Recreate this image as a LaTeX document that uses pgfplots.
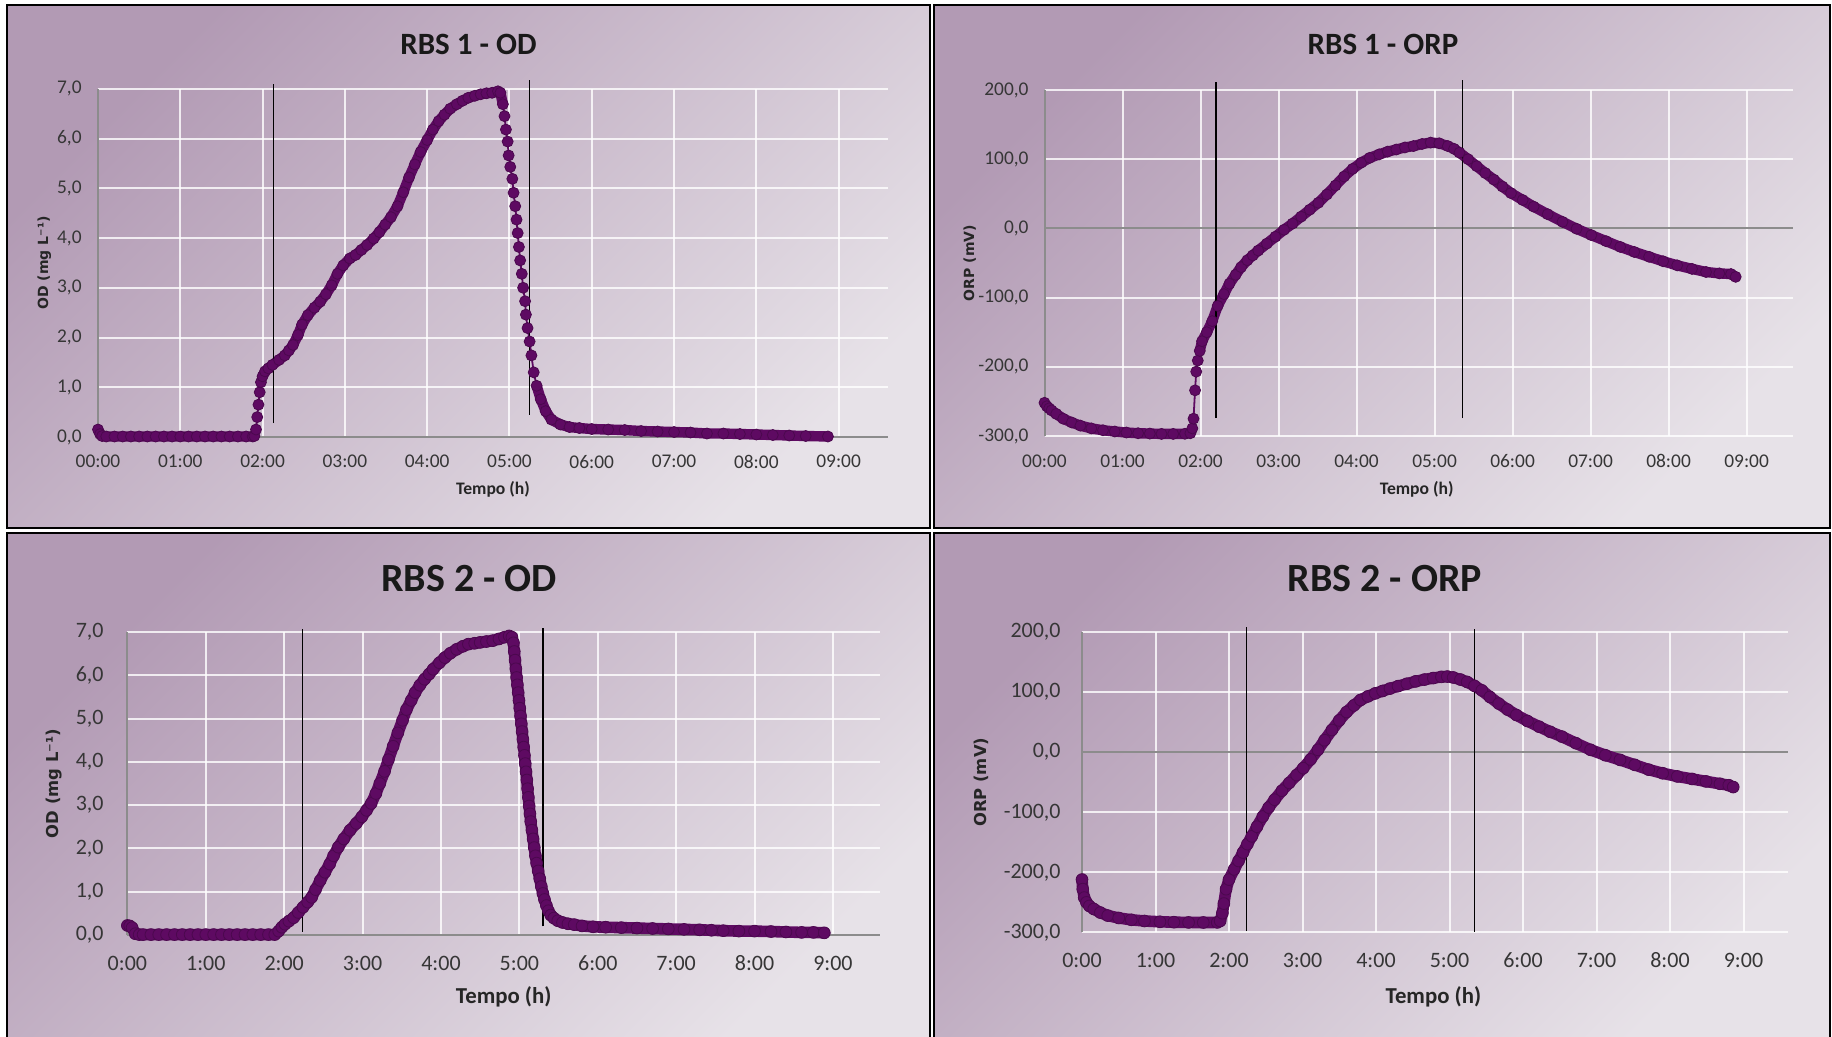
\documentclass[border=0pt]{standalone}
\usepackage{fontspec}
\setmainfont{Carlito}
\newfontfamily\dvs{DejaVu Sans}
\usepackage{pgfplots}
\pgfplotsset{compat=1.18}
\usepackage{pgfplotstable}
\definecolor{pp}{HTML}{5E0A62}
\definecolor{bgA}{HTML}{B29AB4}
\definecolor{bgB}{HTML}{CCBECD}
\definecolor{bgC}{HTML}{E7E2E8}
\definecolor{tk}{HTML}{363636}
\definecolor{axg}{HTML}{8C8C8C}

% RBS 1 - OD
\pgfplotstableread{
t v
0.000 0.15
0.025 0.06
0.05 0.02
0.10 0.01
0.20 0.01
0.30 0.01
0.40 0.01
0.50 0.01
0.60 0.01
0.70 0.01
0.80 0.01
0.90 0.01
1.00 0.01
1.10 0.01
1.20 0.01
1.30 0.01
1.40 0.01
1.50 0.01
1.60 0.01
1.70 0.01
1.80 0.01
1.88 0.01
1.90 0.02
1.92 0.15
1.935 0.40
1.95 0.65
1.965 0.90
1.98 1.10
2.00 1.22
2.03 1.32
2.07 1.38
2.12 1.45
2.20 1.55
2.27 1.64
2.32 1.74
2.37 1.85
2.43 2.05
2.48 2.26
2.55 2.45
2.63 2.60
2.70 2.72
2.77 2.87
2.84 3.05
2.91 3.28
2.98 3.45
3.06 3.59
3.13 3.66
3.20 3.76
3.27 3.86
3.35 3.99
3.42 4.12
3.49 4.27
3.56 4.42
3.64 4.64
3.71 4.92
3.78 5.22
3.85 5.48
3.92 5.73
4.00 5.97
4.07 6.18
4.14 6.35
4.21 6.48
4.28 6.60
4.36 6.69
4.43 6.76
4.50 6.82
4.58 6.86
4.65 6.89
4.72 6.91
4.79 6.92
4.86 6.95
4.89 6.92
4.92 6.69
4.94 6.45
4.957 6.18
4.978 5.94
4.99 5.66
5.01 5.43
5.035 5.19
5.05 4.91
5.07 4.64
5.086 4.37
5.10 4.10
5.115 3.82
5.13 3.55
5.15 3.28
5.166 3.00
5.19 2.73
5.20 2.46
5.22 2.19
5.245 1.92
5.267 1.64
5.295 1.30
5.33 1.03
5.38 0.76
5.44 0.52
5.51 0.35
5.62 0.25
5.73 0.20
5.85 0.18
6.00 0.16
6.20 0.15
6.40 0.14
6.60 0.12
6.80 0.11
7.00 0.10
7.20 0.09
7.40 0.07
7.60 0.07
7.80 0.06
8.00 0.05
8.20 0.04
8.40 0.03
8.60 0.02
8.87 0.01
}\odA

% RBS 1 - ORP
\pgfplotstableread{
t v
0.00 -252
0.03 -257
0.06 -260
0.09 -263
0.15 -268
0.24 -275
0.35 -280.5
0.46 -285
0.60 -289
0.75 -291.7
0.90 -293.5
1.05 -295
1.20 -296
1.35 -296.5
1.50 -297
1.65 -297
1.80 -296.8
1.87 -296
1.895 -289
1.91 -275
1.93 -234
1.945 -207
1.965 -191
1.99 -177
2.02 -163
2.08 -150
2.15 -134
2.22 -112
2.30 -95
2.37 -80
2.45 -67
2.52 -56
2.60 -46
2.67 -39
2.74 -32
2.85 -22
2.96 -12
3.07 -2
3.18 7
3.29 17
3.40 27
3.51 37
3.62 49
3.73 62
3.84 75
3.95 86
4.06 95
4.17 102
4.29 107
4.40 111
4.51 114
4.62 117
4.73 119
4.84 122
4.95 124
5.06 123
5.17 119
5.25 115
5.32 109.5
5.43 100
5.54 90
5.65 80
5.76 70.5
5.87 60.5
5.98 51
6.13 41
6.27 31.5
6.45 20.5
6.64 9.5
6.82 -0.5
7.01 -9.7
7.20 -18.5
7.38 -26.7
7.56 -34
7.75 -41
7.93 -47.5
8.11 -53.4
8.30 -58.5
8.48 -63
8.65 -65
8.80 -66
8.86 -70
}\orpA

% RBS 2 - OD
\pgfplotstableread{
t v
0.00 0.22
0.03 0.21
0.06 0.17
0.10 0.03
0.15 0.01
0.20 0.01
0.30 0.01
0.40 0.01
0.50 0.01
0.60 0.01
0.70 0.01
0.80 0.01
0.90 0.01
1.00 0.01
1.10 0.01
1.20 0.01
1.30 0.01
1.40 0.01
1.50 0.01
1.60 0.01
1.70 0.01
1.80 0.01
1.88 0.01
1.93 0.09
1.97 0.18
2.01 0.25
2.06 0.32
2.12 0.40
2.18 0.52
2.24 0.64
2.30 0.76
2.35 0.87
2.40 1.05
2.46 1.26
2.52 1.45
2.58 1.64
2.63 1.83
2.69 2.03
2.76 2.22
2.84 2.42
2.92 2.58
2.99 2.73
3.05 2.88
3.11 3.04
3.17 3.27
3.22 3.50
3.28 3.78
3.33 4.05
3.39 4.36
3.45 4.67
3.51 4.96
3.56 5.21
3.62 5.42
3.67 5.60
3.73 5.77
3.79 5.91
3.85 6.03
3.90 6.14
3.98 6.29
4.05 6.41
4.12 6.51
4.20 6.60
4.28 6.67
4.35 6.72
4.43 6.74
4.50 6.76
4.58 6.78
4.66 6.80
4.74 6.84
4.81 6.88
4.87 6.91
4.905 6.88
4.925 6.75
4.935 6.55
4.945 6.35
4.955 6.15
4.965 5.95
4.975 5.78
4.985 5.60
4.995 5.42
5.005 5.24
5.015 5.06
5.025 4.88
5.035 4.70
5.045 4.52
5.055 4.34
5.065 4.15
5.075 3.96
5.085 3.77
5.095 3.58
5.105 3.38
5.115 3.18
5.125 2.98
5.135 2.80
5.145 2.62
5.16 2.42
5.175 2.22
5.19 2.02
5.205 1.83
5.22 1.66
5.24 1.48
5.26 1.30
5.28 1.12
5.30 0.96
5.32 0.82
5.345 0.68
5.37 0.56
5.40 0.46
5.44 0.39
5.49 0.33
5.55 0.29
5.62 0.26
5.70 0.24
5.80 0.21
5.94 0.19
6.10 0.18
6.30 0.17
6.50 0.16
6.70 0.15
6.90 0.14
7.10 0.13
7.30 0.12
7.45 0.11
7.60 0.10
7.80 0.09
8.00 0.09
8.21 0.08
8.40 0.07
8.60 0.06
8.75 0.06
8.89 0.05
}\odB

% RBS 2 - ORP
\pgfplotstableread{
t v
0.00 -212
0.01 -228
0.03 -242
0.06 -250
0.10 -256
0.16 -261
0.25 -267
0.35 -272
0.50 -276
0.67 -279
0.85 -281
1.06 -282.3
1.25 -283
1.45 -283.4
1.65 -283.5
1.84 -283.4
1.88 -281
1.91 -268
1.93 -252
1.96 -228
2.00 -212
2.07 -195
2.13 -181
2.19 -167
2.25 -153
2.31 -140
2.38 -124
2.46 -107
2.54 -92
2.62 -79
2.72 -64
2.82 -51
2.92 -38
3.01 -26.5
3.11 -12
3.21 4
3.30 20
3.40 37
3.50 53
3.60 67
3.70 78
3.79 87
3.89 93
3.99 98
4.09 102
4.19 106
4.30 110
4.42 114
4.54 118
4.66 121
4.78 123.5
4.89 125.5
4.97 126
5.05 124.5
5.15 121
5.24 117
5.34 110.5
5.44 103
5.55 92
5.67 81
5.79 71
5.91 62
6.06 52
6.22 42.5
6.37 34
6.53 26
6.72 15
6.92 4
7.12 -5
7.32 -12.7
7.52 -21
7.71 -29
7.90 -35
8.10 -40.3
8.30 -44.5
8.49 -48.6
8.68 -52.5
8.80 -55
8.86 -58
}\orpB

\pgfplotsset{
  panel/.style={
    scale only axis, xmin=0, xmax=9.6, clip=false,
    axis line style={draw=none}, major tick length=0pt, tick style={draw=none},
    xtick={0,1,2,3,4,5,6,7,8,9}, grid=major,
    grid style={white, opacity=0.8, line width=1pt},
    tick label style={text=tk, inner sep=0pt},
    xticklabel style={anchor=center},
    yticklabel style={anchor=east},
    every axis title/.style={anchor=center, text=black!90},
    every axis x label/.style={anchor=center, text=black!85},
    every axis y label/.style={anchor=center, rotate=90, text=black!85},
    xlabel={Tempo (h)},
  },
  odaxis/.style={ymin=0, ymax=7, ytick={0,1,2,3,4,5,6,7},
    yticklabels={{0,0},{1,0},{2,0},{3,0},{4,0},{5,0},{6,0},{7,0}}},
  orpaxis/.style={ymin=-300, ymax=200, ytick={-300,-200,-100,0,100,200},
    yticklabels={{-300,0},{-200,0},{-100,0},{0,0},{100,0},{200,0}}},
  band/.style={pp, line width=#1, line join=round, line cap=round, no markers, unbounded coords=jump},
  dots/.style={pp, line width=0.9pt, mark=*, mark size=#1,
    mark options={fill=pp, draw=pp!80!black, line width=0.4pt}},
}

\begin{document}
\begin{tikzpicture}
\path[use as bounding box] (0pt,0pt) rectangle (916pt,-518.5pt);
\clip (0pt,0pt) rectangle (916pt,-518.5pt);
\fill[white] (0pt,0pt) rectangle (916pt,-518.5pt);
% panel backgrounds
\foreach \xa/\ya/\xb/\yb in {3.5/-2.5/465/-264, 467/-2.5/915/-264, 3.5/-266.5/465/-524, 467/-266.5/915/-524}{
  \shade[top color=bgA, middle color=bgB, bottom color=bgC, shading angle=45] (\xa pt,\ya pt) rectangle (\xb pt,\yb pt);
  \draw[black, line width=1.1pt] (\xa pt,\ya pt) rectangle (\xb pt,\yb pt);
}

% ---------------- RBS 1 - OD
\begin{axis}[panel, odaxis, at={(49pt,-218.5pt)}, anchor=south west,
  width=395pt, height=174.1pt,
  tick label style={font=\fontsize{9.7}{11}\selectfont},
  xticklabels={00:00,01:00,02:00,03:00,04:00,05:00,06:00,07:00,08:00,09:00},
  xticklabel style={yshift=-12.3pt}, yticklabel style={xshift=-8pt},
  title={RBS 1 - OD},
  title style={at={(axis description cs:0.469,1.1287)}, font=\fontsize{15.5}{18}\selectfont\bfseries},
  xlabel style={at={(axis description cs:0.5,-0.1511)}, font=\fontsize{8.8}{10}\selectfont\bfseries},
  ylabel={OD (mg L⁻¹)},
  ylabel style={at={(axis description cs:-0.0678,0.5)}, font=\dvs\bfseries\fontsize{7}{8}\selectfont},
]
\draw[axg, line width=1pt] (axis cs:0,0) -- (axis cs:0,7);
\draw[axg, line width=1pt] (axis cs:0,0) -- (axis cs:9.6,0);
\addplot[band=5.2pt, restrict x to domain=0:1.91] table {\odA};
\addplot[band=5.2pt, restrict x to domain=2.0:4.93] table {\odA};
\addplot[band=5.2pt, restrict x to domain=5.3:9] table {\odA};
\addplot[dots=2.75pt] table {\odA};
\draw[black, line width=0.75pt] (axis cs:2.13,0.28) -- (axis cs:2.13,7.10);
\draw[black, line width=0.75pt] (axis cs:5.245,0.45) -- (axis cs:5.245,7.17);
\end{axis}

% ---------------- RBS 1 - ORP
\begin{axis}[panel, orpaxis, at={(522.25pt,-218pt)}, anchor=south west,
  width=374.45pt, height=173pt,
  tick label style={font=\fontsize{9.7}{11}\selectfont},
  xticklabels={00:00,01:00,02:00,03:00,04:00,05:00,06:00,07:00,08:00,09:00},
  xticklabel style={yshift=-12.5pt}, yticklabel style={xshift=-7.8pt},
  title={RBS 1 - ORP},
  title style={at={(axis description cs:0.452,1.1329)}, font=\fontsize{15.5}{18}\selectfont\bfseries},
  xlabel style={at={(axis description cs:0.497,-0.1549)}, font=\fontsize{8.8}{10}\selectfont\bfseries},
  ylabel={ORP (mV)},
  ylabel style={at={(axis description cs:-0.0999,0.5)}, font=\dvs\bfseries\fontsize{7}{8}\selectfont},
]
\draw[axg, line width=1pt] (axis cs:0,-300) -- (axis cs:0,200);
\draw[axg, line width=1pt] (axis cs:0,0) -- (axis cs:9.6,0);
\addplot[band=5.2pt, restrict x to domain=0:1.88] table {\orpA};
\addplot[band=5.2pt, restrict x to domain=1.99:9] table {\orpA};
\addplot[dots=2.75pt] table {\orpA};
\draw[black, line width=0.75pt] (axis cs:2.2,-274) -- (axis cs:2.2,211);
\draw[black, line width=0.75pt] (axis cs:5.36,-274) -- (axis cs:5.36,215);
\end{axis}

% ---------------- RBS 2 - OD
\begin{axis}[panel, odaxis, at={(63.7pt,-467.5pt)}, anchor=south west,
  width=376.3pt, height=151.5pt,
  tick label style={font=\fontsize{11}{13}\selectfont},
  xticklabels={0:00,1:00,2:00,3:00,4:00,5:00,6:00,7:00,8:00,9:00},
  xticklabel style={yshift=-14pt}, yticklabel style={xshift=-11.7pt},
  title={RBS 2 - OD},
  title style={at={(axis description cs:0.454,1.1782)}, font=\fontsize{20}{24}\selectfont\bfseries},
  xlabel style={at={(axis description cs:0.5,-0.2033)}, font=\fontsize{11.4}{13}\selectfont\bfseries},
  ylabel={OD (mg L⁻¹)},
  ylabel style={at={(axis description cs:-0.0981,0.5)}, font=\dvs\bfseries\fontsize{8.2}{9}\selectfont},
]
\draw[axg, line width=1pt] (axis cs:0,0) -- (axis cs:0,7);
\draw[axg, line width=1pt] (axis cs:0,0) -- (axis cs:9.6,0);
\addplot[band=5.8pt] table {\odB};
\addplot[dots=2.95pt] table {\odB};
\draw[black, line width=0.75pt] (axis cs:2.235,0.08) -- (axis cs:2.235,7.06);
\draw[black, line width=0.75pt] (axis cs:5.30,0.20) -- (axis cs:5.30,7.10);
\end{axis}

% ---------------- RBS 2 - ORP
\begin{axis}[panel, orpaxis, at={(541pt,-466.2pt)}, anchor=south west,
  width=352.8pt, height=150.15pt,
  tick label style={font=\fontsize{11}{13}\selectfont},
  xticklabels={0:00,1:00,2:00,3:00,4:00,5:00,6:00,7:00,8:00,9:00},
  xticklabel style={yshift=-14pt}, yticklabel style={xshift=-10.5pt},
  title={RBS 2 - ORP},
  title style={at={(axis description cs:0.429,1.18)}, font=\fontsize{20}{24}\selectfont\bfseries},
  xlabel style={at={(axis description cs:0.498,-0.2153)}, font=\fontsize{11.4}{13}\selectfont\bfseries},
  ylabel={ORP (mV)},
  ylabel style={at={(axis description cs:-0.1423,0.5)}, font=\dvs\bfseries\fontsize{8.2}{9}\selectfont},
]
\draw[axg, line width=1pt] (axis cs:0,-300) -- (axis cs:0,200);
\draw[axg, line width=1pt] (axis cs:0,0) -- (axis cs:9.6,0);
\addplot[band=5.8pt] table {\orpB};
\addplot[dots=2.95pt] table {\orpB};
\draw[black, line width=0.75pt] (axis cs:2.24,-298) -- (axis cs:2.24,208);
\draw[black, line width=0.75pt] (axis cs:5.34,-299) -- (axis cs:5.34,205);
\end{axis}
\end{tikzpicture}
\end{document}
